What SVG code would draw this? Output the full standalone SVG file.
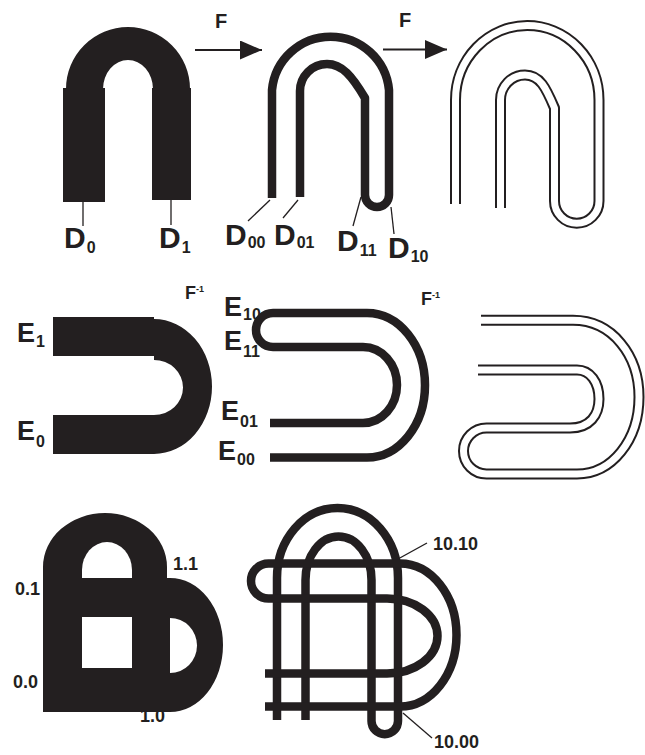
<svg xmlns="http://www.w3.org/2000/svg" width="645" height="755" viewBox="0 0 645 755">
<defs>
<style>
.ink{fill:#231f20}
.thick{fill:none;stroke:#231f20;stroke-width:8.5;stroke-linejoin:round}
.dblo{fill:none;stroke:#231f20;stroke-width:11;stroke-linejoin:round}
.dbli{fill:none;stroke:#fff;stroke-width:7;stroke-linejoin:round}
.lead{fill:none;stroke:#231f20;stroke-width:1.3}
.arr{fill:none;stroke:#231f20;stroke-width:2}
text{font-family:"Liberation Sans",Arial,sans-serif;font-weight:bold;fill:#231f20}
.big{font-size:30px}
.mid{font-size:27px}
.sub{font-size:16px}
.f{font-size:20px}
.num{font-size:18px}
</style>
<marker id="ah" markerUnits="userSpaceOnUse" markerWidth="22" markerHeight="19" refX="22" refY="9.5" orient="auto">
<path d="M0,0 L22,9.5 L0,19 Z" fill="#231f20"/>
</marker>
<path id="p1" d="M300,197 V91 A27,27 0 0 1 327,64 C342,64 352,76 365,98 V195 A12,12 0 0 0 389,195 V90 A58.75,58.75 0 0 0 272,90 V198"/>
<path id="p2" d="M500.5,208 V100 A24.5,25 0 0 1 525,75 C540,75 546,88 554.5,108 V201 A22.25,22.25 0 0 0 599,201 V100 A71.75,74.5 0 0 0 455.5,100 V204"/>
<path id="p3" d="M481,320.3 H573 C612,320.3 639,355 639,397 C639,440 612,474 577,474 H486.5 A23,23 0 0 1 486.5,428 H570 C590,428 599,415 599,399 C599,382 590,370 577,370 H478"/>
</defs>

<g id="U-D">
<path class="ink" d="M66,89 A62,62 0 0 1 190,89 L153,89 A25,29 0 0 0 103,89 Z"/>
<rect class="ink" x="63" y="88" width="42" height="114"/>
<rect class="ink" x="152" y="88" width="39" height="112"/>
<text class="big" x="64" y="248">D<tspan class="sub" dx="1" dy="5">0</tspan></text>
<text class="big" x="159" y="248">D<tspan class="sub" dx="1" dy="5">1</tspan></text>
</g>

<g id="F-D">
<use href="#p1" class="thick"/>
<text class="big" x="225" y="245">D<tspan class="sub" dx="1" dy="3">00</tspan></text>
<text class="big" x="274" y="245">D<tspan class="sub" dx="1" dy="3">01</tspan></text>
<text class="big" x="337" y="251">D<tspan class="sub" dx="1" dy="5">11</tspan></text>
<text class="big" x="388" y="258">D<tspan class="sub" dx="1" dy="4">10</tspan></text>
</g>

<g id="FF-D">
<use href="#p2" class="dblo"/>
<use href="#p2" class="dbli"/>
</g>

<g id="U-E">
<rect class="ink" x="53" y="317" width="101" height="39"/>
<rect class="ink" x="53" y="415" width="101" height="39"/>
<path class="ink" d="M154,319 A58,67.5 0 0 1 154,454 L154,415 A29,27.5 0 0 0 154,360 Z"/>
<text class="mid" x="17" y="342">E<tspan class="sub" dx="1" dy="5">1</tspan></text>
<text class="mid" x="17" y="440">E<tspan class="sub" dx="1" dy="7">0</tspan></text>
<text class="num" x="185" y="299">F<tspan font-size="9" dy="-7">-1</tspan></text>
</g>

<g id="Finv-E">
<path class="thick" d="M270,457.5 H367 A58,72.25 0 0 0 367,313 H273 A17,17 0 0 0 273,347 H363 A34,38 0 0 1 363,423 H270"/>
<text class="mid" x="224" y="316">E<tspan class="sub" dx="1" dy="4">10</tspan></text>
<text class="mid" x="224" y="350">E<tspan class="sub" dx="1" dy="7">11</tspan></text>
<text class="mid" x="221" y="420">E<tspan class="sub" dx="1" dy="7">01</tspan></text>
<text class="mid" x="218" y="460">E<tspan class="sub" dx="1" dy="5">00</tspan></text>
<text class="num" x="421" y="305">F<tspan font-size="9" dy="-7">-1</tspan></text>
</g>

<g id="FFinv-E">
<use href="#p3" class="dblo"/>
<use href="#p3" class="dbli"/>
</g>

<g id="D-cap-E">
<path class="ink" d="M43,710 V567 A62,54 0 0 1 167,567 V578 H170 A53,67 0 0 1 170,712 H43 Z"/>
<path fill="#fff" d="M82,578 V570 A25,28 0 0 1 132,570 V578 Z"/>
<rect fill="#fff" x="82" y="617" width="50" height="51"/>
<path fill="#fff" d="M170,618 A27,27.5 0 0 1 170,673 Z"/>
<text class="num" x="15" y="595">0.1</text>
<text class="num" x="173" y="570">1.1</text>
<text class="num" x="13" y="688">0.0</text>
<text class="num" x="140" y="722">1.0</text>
</g>

<g id="FD-cap-FE">
<path class="thick" d="M305.5,720 V580 A33,43.5 0 0 1 371.5,580 V721 A13.25,13.25 0 0 0 398,721 V578 A60.5,70 0 0 0 277,578 V720"/>
<path class="thick" d="M265,706.5 H400 A56.5,71.5 0 0 0 400,563.5 H268.5 A17.5,17.5 0 0 0 268.5,598.5 H387 A50.5,37.5 0 0 1 387,673.5 H265"/>
<text class="num" x="433" y="550">10.10</text>
<text class="num" x="434" y="748">10.00</text>
</g>

<g id="connectors">
<line class="arr" x1="195" y1="50" x2="262" y2="50" marker-end="url(#ah)"/>
<text class="f" x="215" y="28">F</text>
<line class="arr" x1="383" y1="49.5" x2="447" y2="49.5" marker-end="url(#ah)"/>
<text class="f" x="399" y="27">F</text>
<line class="lead" x1="83" y1="202" x2="83" y2="226"/>
<line class="lead" x1="171" y1="200" x2="171" y2="225"/>
<line class="lead" x1="270" y1="200" x2="248" y2="221"/>
<line class="lead" x1="298" y1="200" x2="283" y2="218"/>
<line class="lead" x1="361" y1="197" x2="353" y2="226"/>
<line class="lead" x1="391" y1="207" x2="394" y2="234"/>
<line class="lead" x1="398" y1="559" x2="427" y2="543"/>
<line class="lead" x1="403" y1="713" x2="432" y2="738"/>
</g>
</svg>
